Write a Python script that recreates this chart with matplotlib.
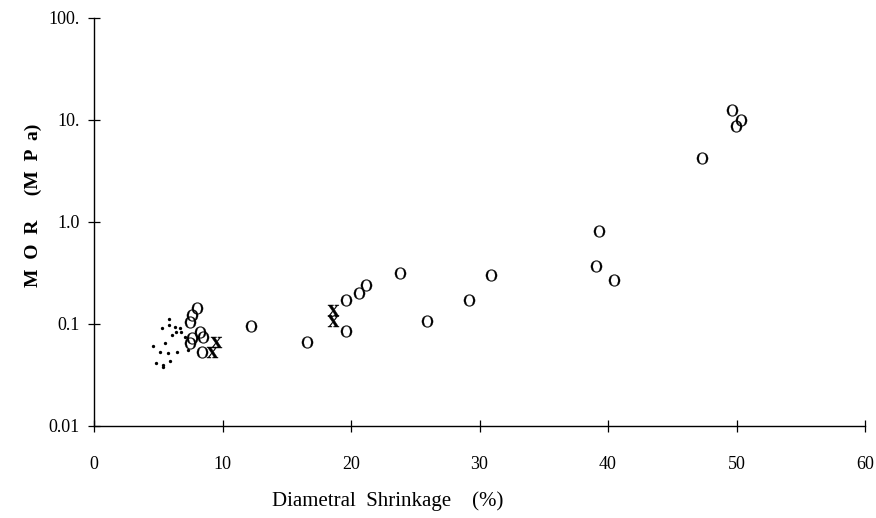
import matplotlib
matplotlib.use("Agg")
import matplotlib.pyplot as plt
from matplotlib.ticker import FixedLocator, NullLocator

plt.rcParams['font.family'] = ['Liberation Serif', 'DejaVu Serif']
plt.rcParams['mathtext.fontset'] = 'stix'

# open circles
o_shrink = [8.0, 7.6, 7.5, 8.25, 8.5, 7.6, 7.5, 8.4,
            12.2, 16.6, 19.6, 19.6, 20.6, 21.2, 23.8, 25.9,
            29.2, 30.9, 39.1, 39.3, 40.5, 47.3, 49.65, 49.96, 50.35]
o_mor = [0.144, 0.122, 0.105, 0.084, 0.075, 0.073, 0.065, 0.053,
         0.096, 0.067, 0.17, 0.085, 0.20, 0.24, 0.316, 0.107,
         0.17, 0.30, 0.37, 0.82, 0.27, 4.24, 12.5, 8.7, 10.0]

# crosses
x_shrink = [9.5, 9.2, 18.6, 18.6]
x_mor = [0.067, 0.053, 0.137, 0.107]

# dots
d_shrink = [5.84, 5.29, 6.30, 5.84, 6.38, 6.69, 6.77, 6.07, 7.08, 5.53,
            4.59, 6.46, 5.14, 5.76, 7.32, 4.82, 5.37, 5.91, 5.37]
d_mor = [0.112, 0.091, 0.093, 0.098, 0.084, 0.091, 0.084, 0.078, 0.075, 0.065,
         0.061, 0.053, 0.053, 0.052, 0.056, 0.041, 0.040, 0.043, 0.038]

x_ticks = [0, 10, 20, 30, 40, 50, 60]
y_ticks = [0.01, 0.1, 1.0, 10.0, 100.0]
y_ticklabels = ['0.01', '0.1', '1.0', '10.', '100.']

fig = plt.figure(figsize=(8.76, 5.18), dpi=100)
ax = fig.add_axes([94 / 876, 92 / 518, 771 / 876, 408 / 518])

ax.plot(d_shrink, d_mor, linestyle='none', marker='o', markersize=2.4,
        color='black', markeredgewidth=0)
ax.plot(o_shrink, o_mor, linestyle='none', marker=r'$\mathrm{O}$',
        markersize=8.5, color='black', markeredgewidth=0.2)
ax.plot(x_shrink, x_mor, linestyle='none', marker=r'$\mathbf{X}$',
        markersize=8, color='black', markeredgewidth=0.3)

ax.set_yscale('log')
ax.set_xlim(0, 60)
ax.set_ylim(0.01, 100)

ax.xaxis.set_major_locator(FixedLocator(x_ticks))
ax.yaxis.set_major_locator(FixedLocator(y_ticks))
ax.yaxis.set_minor_locator(NullLocator())
ax.set_yticklabels(y_ticklabels)

for side in ('top', 'right'):
    ax.spines[side].set_visible(False)
for side in ('left', 'bottom'):
    ax.spines[side].set_linewidth(1.0)

ax.tick_params(axis='both', direction='inout', length=9, width=0.9,
               labelsize=13, colors='black')
ax.tick_params(axis='x', pad=17)
ax.tick_params(axis='y', pad=6)

ax.set_xlabel('Diametral  Shrinkage    (%)', fontsize=15)
ax.xaxis.set_label_coords((388 - 94) / 771, -0.16)
ax.set_ylabel('M  O  R     (M  P  a)', fontsize=14, fontweight='bold')
ax.yaxis.set_label_coords(-0.068, 0.54)

fig.savefig('out.png', dpi=100)
